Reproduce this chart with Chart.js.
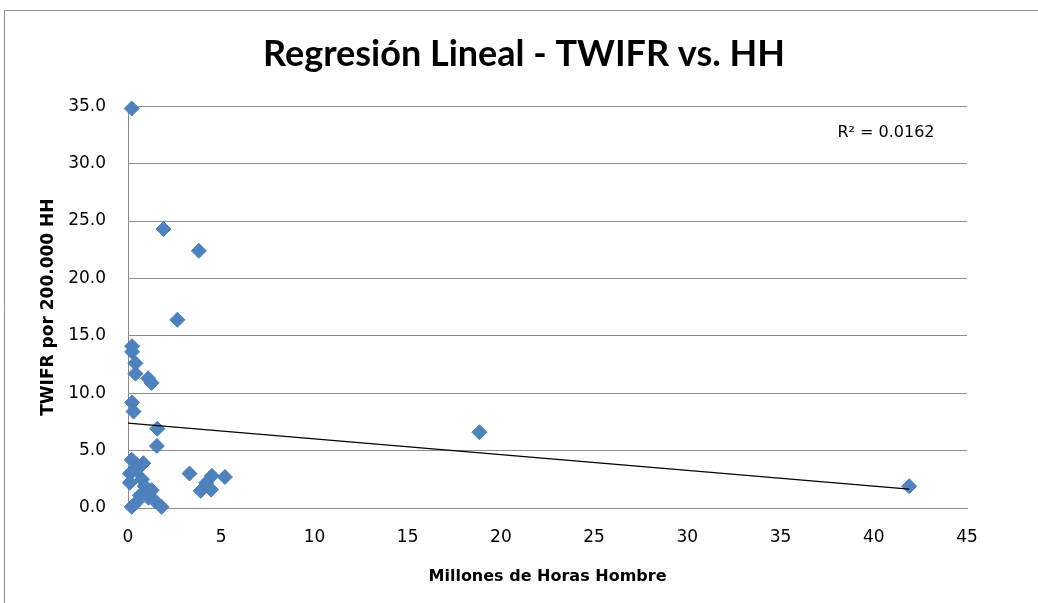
<!DOCTYPE html>
<html>
<head>
<meta charset="utf-8">
<script src="https://cdn.jsdelivr.net/npm/chart.js@4/dist/chart.umd.min.js"></script>
<style>
  html, body { margin: 0; padding: 0; background: #fff; }
  #wrap { width: 1038px; height: 603px; }
</style>
</head>
<body>
<div id="wrap"><canvas id="reg_chart" width="1038" height="603"></canvas></div>
<script>
// millones de horas hombre (x) y TWIFR (y)
var hhValues = [0.2, 1.9, 3.8, 2.65, 0.22, 0.22, 0.4, 0.4, 1.08, 1.26,
    0.22, 0.3, 1.57, 1.55, 18.85, 41.9, 0.2, 0.82, 0.55, 0.1,
    0.45, 0.1, 0.75, 0.9, 1.27, 0.64, 1.1, 0.2, 0.46, 1.45,
    1.8, 3.3, 4.5, 5.2, 4.2, 3.9, 4.45];
var twifrValues = [34.8, 24.3, 22.4, 16.4, 14.1, 13.6, 12.6, 11.7, 11.3, 10.9,
    9.2, 8.4, 6.9, 5.4, 6.6, 1.9, 4.2, 3.9, 3.6, 3.0,
    3.3, 2.2, 2.5, 1.9, 1.55, 1.1, 0.9, 0.1, 0.5, 0.6,
    0.1, 3.0, 2.8, 2.7, 2.2, 1.5, 1.6];

// linea de tendencia (extremos)
var trendX = [0, 41.9];
var trendY = [7.39, 1.65];
var r2Label = 'R² = 0.0162';

var xTicks = [0, 5, 10, 15, 20, 25, 30, 35, 40, 45];
var yTicks = [0, 5, 10, 15, 20, 25, 30, 35];

var TITLE_FONT = 'Lato, "Open Sans", sans-serif';
var FONT = '"DejaVu Sans", sans-serif';

var points = [];
for (let i = 0; i < hhValues.length; i++) {
    points.push({x: hhValues[i], y: twifrValues[i]});
}
var trendPoints = [];
for (let i = 0; i < trendX.length; i++) {
    trendPoints.push({x: trendX[i], y: trendY[i]});
}

// marco + texto R2
var extras = {
    id: 'extras',
    beforeDraw: function(chart) {
        var c = chart.ctx;
        c.save();
        c.strokeStyle = '#8c8c8c';
        c.lineWidth = 1;
        c.beginPath();
        c.moveTo(4.5, 603);
        c.lineTo(4.5, 10.5);
        c.lineTo(1038, 10.5);
        c.stroke();
        c.restore();
    },
    afterDraw: function(chart) {
        var c = chart.ctx;
        var a = chart.chartArea;
        c.save();
        c.fillStyle = '#000';
        c.font = '16px ' + FONT;
        c.textAlign = 'center';
        c.textBaseline = 'middle';
        c.fillText(r2Label, a.right - 81, a.top + 27);
        c.restore();
    }
};

var ctx = document.getElementById('reg_chart').getContext('2d');
var regChart = new Chart(ctx, {
    type: 'scatter',
    data: {
        datasets: [{
            label: 'TWIFR',
            data: points,
            pointStyle: 'rectRot',
            pointRadius: 7.5,
            backgroundColor: '#4F81BD',
            borderColor: '#4a7ebb',
            borderWidth: 1,
            clip: false,
            order: 1
        }, {
            label: 'Lineal',
            type: 'line',
            data: trendPoints,
            borderColor: '#000',
            borderWidth: 1.3,
            pointRadius: 0,
            fill: false,
            clip: false,
            order: 0
        }]
    },
    options: {
        responsive: false,
        animation: false,
        layout: {padding: {left: 10, right: 0, top: 0, bottom: 4}},
        plugins: {
            legend: {display: false},
            tooltip: {enabled: false},
            title: {
                display: true,
                text: 'Regresión Lineal - TWIFR vs. HH',
                color: '#000',
                font: {family: TITLE_FONT, size: 36, weight: 'bold'},
                padding: {top: 33, bottom: 30}
            }
        },
        scales: {
            x: {
                type: 'linear',
                min: 0,
                max: 45,
                afterBuildTicks: function(s) { s.ticks = xTicks.map(v => ({value: v})); },
                afterFit: function(s) { s.height = 91; },
                grid: {display: false, drawTicks: false},
                border: {display: true, color: '#8c8c8c', width: 1},
                ticks: {color: '#000', font: {family: FONT, size: 17}, padding: 19, maxRotation: 0},
                title: {
                    display: true,
                    text: 'Millones de Horas Hombre',
                    color: '#000',
                    font: {family: FONT, size: 16, weight: 'bold'},
                    padding: {top: 0, bottom: 13}
                }
            },
            y: {
                type: 'linear',
                min: 0,
                max: 35,
                afterBuildTicks: function(s) { s.ticks = yTicks.map(v => ({value: v})); },
                afterFit: function(s) { s.width = 118; },
                grid: {color: '#8c8c8c', lineWidth: 1, drawTicks: false},
                border: {display: true, color: '#8c8c8c', width: 1},
                ticks: {
                    color: '#000',
                    font: {family: FONT, size: 17},
                    padding: 22,
                    callback: function(v) { return v.toFixed(1); }
                },
                title: {
                    display: true,
                    text: 'TWIFR por 200.000 HH',
                    color: '#000',
                    font: {family: FONT, size: 17, weight: 'bold'},
                    padding: {top: 28, bottom: 0}
                }
            },
            // eje vacio a la derecha solo para reservar el margen
            yRight: {
                position: 'right',
                display: true,
                afterFit: function(s) { s.width = 71; },
                grid: {display: false, drawTicks: false},
                border: {display: false},
                ticks: {display: false}
            }
        }
    },
    plugins: [extras]
});
</script>
</body>
</html>
